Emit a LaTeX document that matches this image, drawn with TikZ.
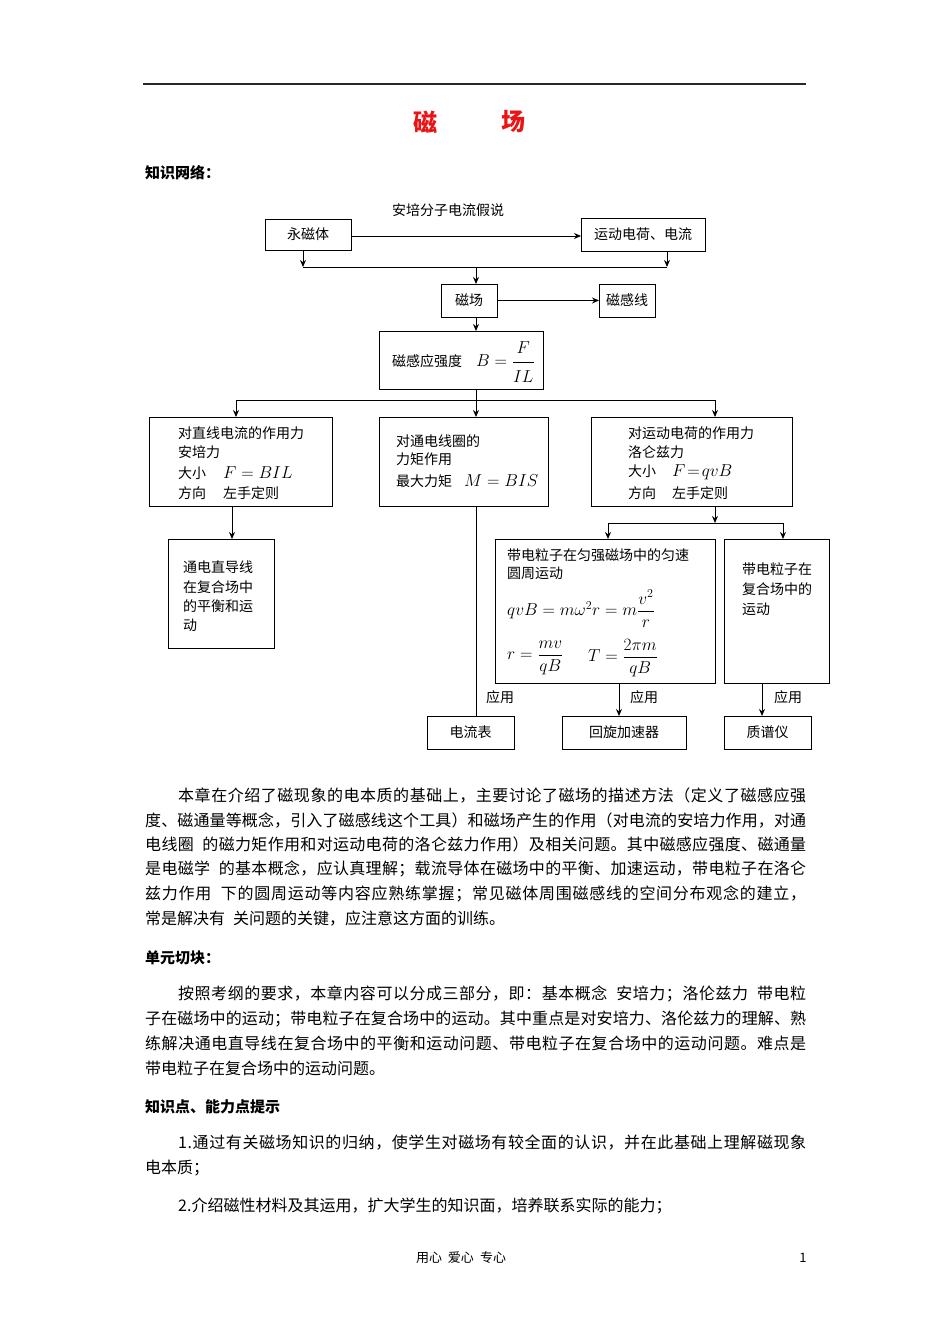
\documentclass[tikz,border=0pt]{standalone}
\usepackage{amsmath}
\usepackage{fontspec}
\setmainfont{Noto Sans CJK SC}
\usetikzlibrary{arrows.meta}
\definecolor{titlered}{RGB}{235,20,20}
\definecolor{rulegray}{RGB}{40,40,40}
\newcommand\gap{\hspace{8pt}}
\def\spreadln#1{\spreadA#1\relax}
\def\spreadA#1{#1\spreadB}
\def\spreadB#1{\ifx\relax#1\else\hskip 0pt plus 1fil\relax #1\expandafter\spreadB\fi}
\newcommand\jline[2]{\hbox to #1{\spreadln{#2}}}
\newcommand\dfont{\fontsize{14}{17}\selectfont}
\newcommand\pfont{\fontsize{16}{20}\selectfont}
\newcommand\hfont{\fontsize{15}{18}\selectfont\bfseries}
\newcommand\mfont{\fontsize{15.5}{18}\selectfont}
\newcommand\bigmfont{\fontsize{17}{20}\selectfont}
\begin{document}
\begin{tikzpicture}[x=1pt,y=-1pt,
  box/.style={draw, line width=1pt, inner sep=0pt, outer sep=0pt, font=\dfont},
  txt/.style={inner sep=0pt, anchor=west, font=\dfont},
  mtxt/.style={inner sep=0pt, anchor=west, font=\bigmfont},
  ptxt/.style={inner sep=0pt, anchor=west, font=\pfont},
  htxt/.style={inner sep=0pt, anchor=west, font=\hfont},
  conn/.style={line width=1pt},
  arr/.style={line width=1pt, -{Stealth[length=7pt,width=6pt]}}]
\fill[white] (0,0) rectangle (950,1344);
\useasboundingbox (0,0) rectangle (950,1344);

% top rule and title
\coordinate (ruleL) at (143,84);
\coordinate (ruleR) at (806,84);
\draw[line width=1.3pt, rulegray] (ruleL) -- (ruleR);
\node[inner sep=0pt, font=\fontsize{24}{28}\selectfont\bfseries, text=titlered] (tci) at (425,122) {磁};
\node[inner sep=0pt, font=\fontsize{24}{28}\selectfont\bfseries, text=titlered] (tch) at (513,122) {场};
\node[htxt] (h1) at (145,173) {知识网络：};

% diagram boxes
\node[txt, anchor=center] (hyp) at (448,210) {安培分子电流假说};
\node[box, minimum width=86pt, minimum height=31pt] (ycj) at (308,234.5) {永磁体};
\node[box, minimum width=124pt, minimum height=33pt] (ydc) at (643,234.5) {运动电荷、电流};
\node[box, minimum width=56pt, minimum height=33pt] (cc) at (469,300.5) {磁场};
\node[box, minimum width=56pt, minimum height=33pt] (cgx) at (627,300.5) {磁感线};
\node[box, minimum width=164pt, minimum height=58pt] (bb) at (461.5,360) {};
\node[box, minimum width=183pt, minimum height=89pt] (b1) at (240.5,461.5) {};
\node[box, minimum width=169pt, minimum height=89pt] (b2) at (463.5,461.5) {};
\node[box, minimum width=201pt, minimum height=89pt] (b3) at (691.5,461.5) {};
\node[box, minimum width=106pt, minimum height=109pt] (b4) at (221,593.5) {};
\node[box, minimum width=220pt, minimum height=144pt] (b5) at (605,611) {};
\node[box, minimum width=105pt, minimum height=144pt] (b6) at (777,611) {};
\node[box, minimum width=87pt, minimum height=33pt] (dlb) at (470.5,732.5) {电流表};
\node[box, minimum width=124pt, minimum height=33pt] (hx) at (624,732.5) {回旋加速器};
\node[box, minimum width=87pt, minimum height=33pt] (zpy) at (767.5,732.5) {质谱仪};

% box texts
\node[txt] (bbt) at (392,362) {磁感应强度\hspace{14pt}{\bigmfont$B = \dfrac{\rule[-6pt]{0pt}{15pt}F}{\rule{0pt}{18pt}IL}$}};

\node[txt] (t1a) at (178,433) {对直线电流的作用力};
\node[txt] (t1b) at (178,452) {安培力};
\node[txt] (t1c) at (178,473) {大小\hspace{17pt}{\bigmfont$F = BIL$}};
\node[txt] (t1d) at (178,493) {方向\hspace{17pt}左手定则};

\node[txt] (t2a) at (396,441) {对通电线圈的};
\node[txt] (t2b) at (396,459) {力矩作用};
\node[txt] (t2c) at (396,481) {最大力矩\hspace{12pt}{\bigmfont$M = BIS$}};

\node[txt] (t3a) at (628,433) {对运动电荷的作用力};
\node[txt] (t3b) at (628,452) {洛仑兹力};
\node[txt] (t3c) at (628,472) {大小\hspace{16pt}{\bigmfont$F\!=\!qvB$}};
\node[txt] (t3d) at (628,493) {方向\hspace{16pt}左手定则};

\node[txt] (t4a) at (183,567) {通电直导线};
\node[txt] (t4b) at (183,587) {在复合场中};
\node[txt] (t4c) at (183,606) {的平衡和运};
\node[txt] (t4d) at (183,625) {动};

\node[txt] (t5a) at (507,555) {带电粒子在匀强磁场中的匀速};
\node[txt] (t5b) at (507,573) {圆周运动};
\node[mtxt] (t5c) at (507,609) {$qvB = m\omega^2 r = m\dfrac{\rule[-3pt]{0pt}{10pt}v^2}{\rule{0pt}{11pt}r}$};
\node[mtxt] (t5d) at (507,658) {$r = \dfrac{\rule[-3pt]{0pt}{10pt}mv}{\rule{0pt}{12pt}qB}$};
\node[mtxt] (t5e) at (588,658) {$T = \dfrac{\rule[-3pt]{0pt}{10pt}2\pi m}{\rule{0pt}{12pt}qB}$};

\node[txt] (t6a) at (742,569) {带电粒子在};
\node[txt] (t6b) at (742,589) {复合场中的};
\node[txt] (t6c) at (742,609) {运动};

\node[txt, anchor=center] (yy1) at (500,697) {应用};
\node[txt, anchor=center] (yy2) at (644,697) {应用};
\node[txt, anchor=center] (yy3) at (788,697) {应用};

% connectors
\draw[arr] (ycj.east |- 0,236) -- (ydc.west |- 0,236);
\coordinate (hl) at (303,267);
\coordinate (hr) at (667,267);
\coordinate (hm) at (476,267);
\draw[arr] (hl |- ycj.south) -- (hl);
\draw[arr] (hr |- ydc.south) -- (hr);
\draw[conn] (hl) -- (hr);
\draw[arr] (hm) -- (hm |- cc.north);
\draw[arr] (cc.east) -- (cgx.west);
\draw[arr] (hm |- cc.south) -- (hm |- bb.north);

\coordinate (gl) at (236,400);
\coordinate (gm) at (476,400);
\coordinate (gr) at (715,400);
\draw[conn] (gm |- bb.south) -- (gm);
\draw[conn] (gl) -- (gr);
\draw[arr] (gl) -- (gl |- b1.north);
\draw[arr] (gm) -- (gm |- b2.north);
\draw[arr] (gr) -- (gr |- b3.north);

\coordinate (c14) at (232,520);
\draw[arr] (c14 |- b1.south) -- (c14 |- b4.north);
\draw[conn] (gm |- b2.south) -- (gm |- dlb.north);

\coordinate (kl) at (608,523);
\coordinate (km) at (715,523);
\coordinate (kr) at (783,523);
\draw[arr] (km |- b3.south) -- (km);
\draw[conn] (kl) -- (kr);
\draw[arr] (kl) -- (kl |- b5.north);
\draw[arr] (kr) -- (kr |- b6.north);

\coordinate (c5) at (619,700);
\coordinate (c6) at (762,700);
\draw[arr] (c5 |- b5.south) -- (c5 |- hx.north);
\draw[arr] (c6 |- b6.south) -- (c6 |- zpy.north);

% paragraph 1
\node[ptxt] (p1a) at (178,795) {\jline{628pt}{本章在介绍了磁现象的电本质的基础上，主要讨论了磁场的描述方法（定义了磁感应强}};
\node[ptxt] (p1b) at (145,820) {\jline{661pt}{度、磁通量等概念，引入了磁感线这个工具）和磁场产生的作用（对电流的安培力作用，对通}};
\node[ptxt] (p1c) at (145,844) {\jline{661pt}{电线圈\gap 的磁力矩作用和对运动电荷的洛仑兹力作用）及相关问题。其中磁感应强度、磁通量}};
\node[ptxt] (p1d) at (145,869) {\jline{661pt}{是电磁学\gap 的基本概念，应认真理解；载流导体在磁场中的平衡、加速运动，带电粒子在洛仑}};
\node[ptxt] (p1e) at (145,894) {\jline{661pt}{兹力作用\gap 下的圆周运动等内容应熟练掌握；常见磁体周围磁感线的空间分布观念的建立，}};
\node[ptxt] (p1f) at (145,919) {常是解决有\hspace{8pt}关问题的关键，应注意这方面的训练。};

\node[htxt] (h2) at (145,958) {单元切块：};
\node[ptxt] (p2a) at (178,994) {\jline{628pt}{按照考纲的要求，本章内容可以分成三部分，即：基本概念\gap 安培力；洛伦兹力\gap 带电粒}};
\node[ptxt] (p2b) at (145,1019) {\jline{661pt}{子在磁场中的运动；带电粒子在复合场中的运动。其中重点是对安培力、洛伦兹力的理解、熟}};
\node[ptxt] (p2c) at (145,1043) {\jline{661pt}{练解决通电直导线在复合场中的平衡和运动问题、带电粒子在复合场中的运动问题。难点是}};
\node[ptxt] (p2d) at (145,1068) {带电粒子在复合场中的运动问题。};

\node[htxt] (h3) at (145,1107) {知识点、能力点提示};
\node[ptxt] (p3a) at (178,1143) {\jline{628pt}{1.通过有关磁场知识的归纳，使学生对磁场有较全面的认识，并在此基础上理解磁现象}};
\node[ptxt] (p3b) at (145,1168) {电本质；};
\node[ptxt] (p3c) at (178,1206) {2.介绍磁性材料及其运用，扩大学生的知识面，培养联系实际的能力；};

% footer
\node[inner sep=0pt, font=\fontsize{13}{16}\selectfont] (foot) at (461,1258) {用心\hspace{6pt}爱心\hspace{6pt}专心};
\node[inner sep=0pt, font=\fontsize{13}{16}\selectfont] (pg) at (803,1258) {1};
\end{tikzpicture}
\end{document}
